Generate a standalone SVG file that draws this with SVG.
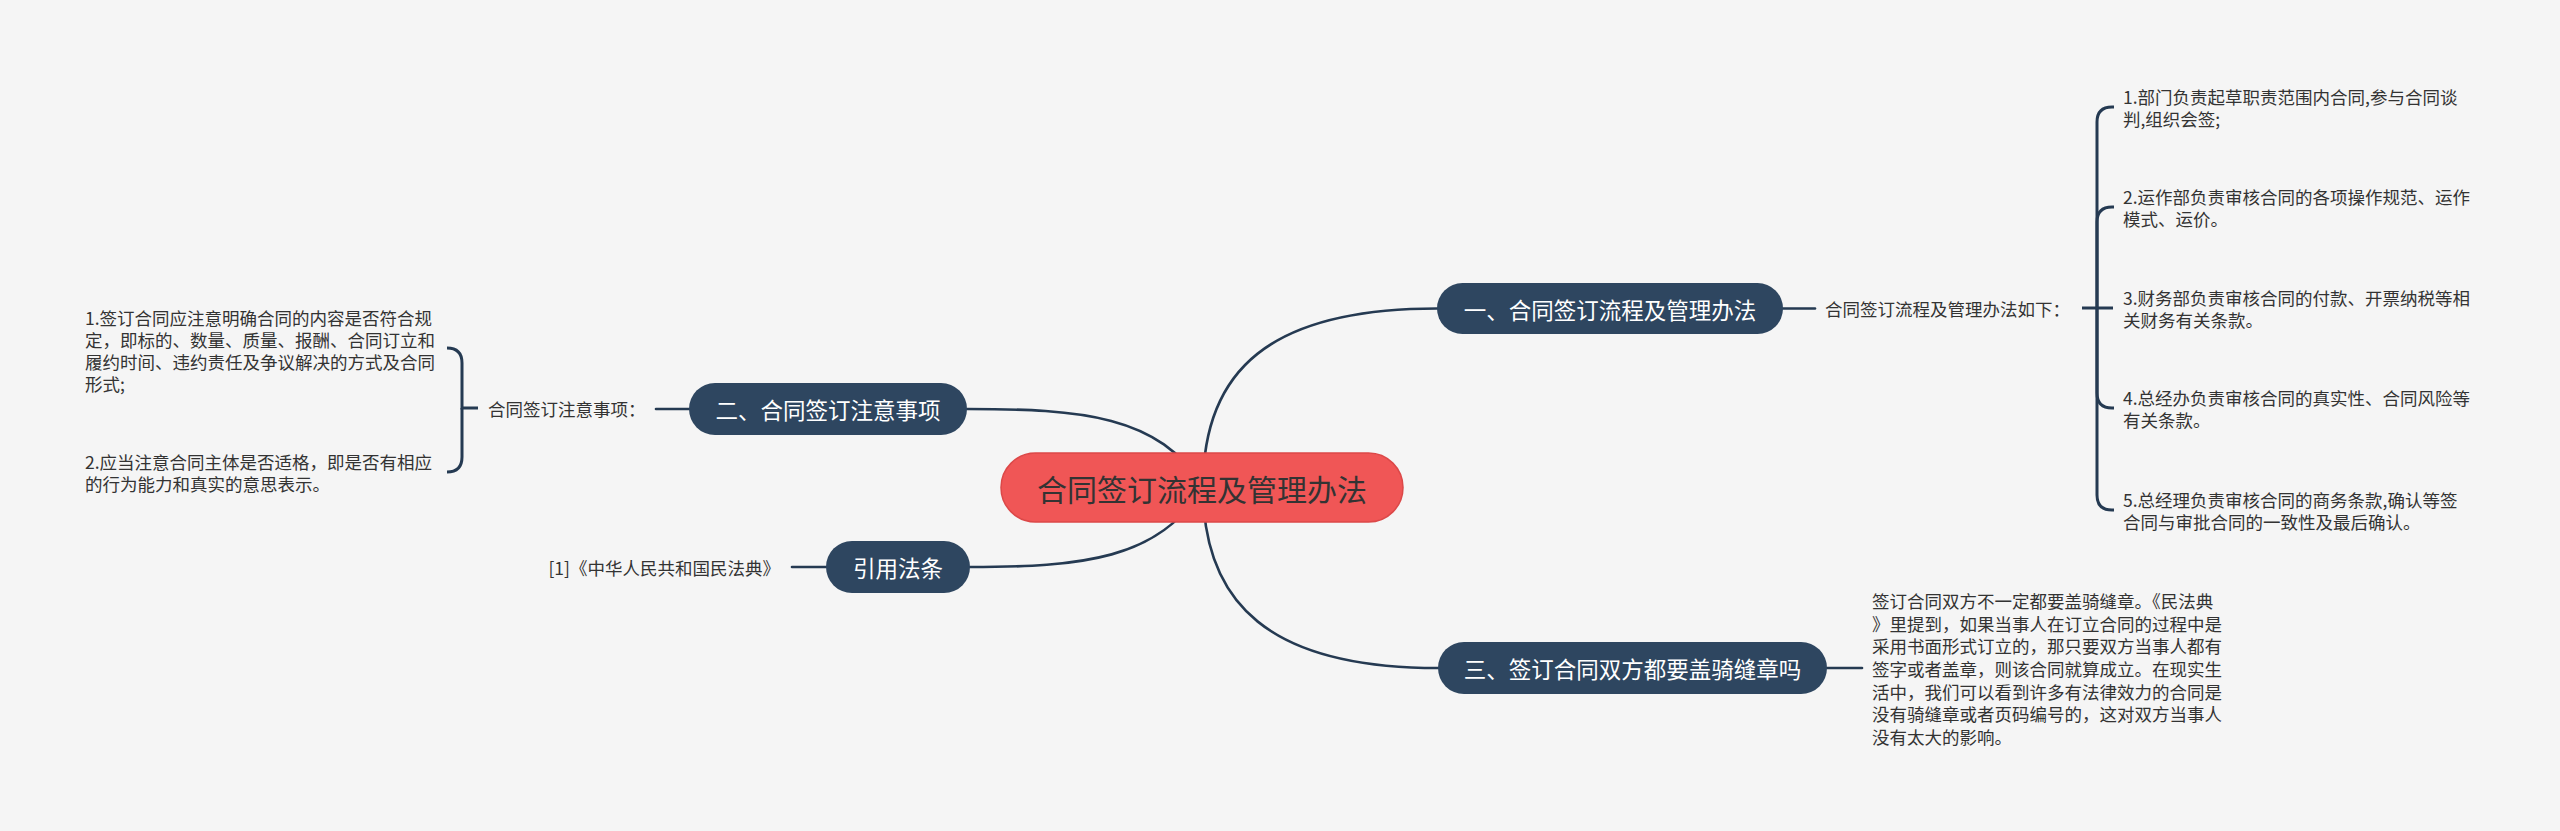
<svg xmlns="http://www.w3.org/2000/svg" width="2560" height="831" viewBox="0 0 2560 831">
<style>
.bg{fill:#f5f5f5}
.conn{fill:none;stroke:#253a52;stroke-width:2.6;stroke-linecap:round}
.br{fill:none;stroke:#253a52;stroke-width:3}
.node{fill:#2e4660}
.root{fill:#f05656;stroke:#dc4848;stroke-width:1.5}
.nt{font-family:"Noto Sans CJK SC","Noto Sans",sans-serif;font-size:22.5px;fill:#ffffff;text-anchor:middle;dominant-baseline:central}
.rt{font-family:"Noto Sans CJK SC","Noto Sans",sans-serif;font-size:30px;fill:#333333;text-anchor:middle;dominant-baseline:central}
.t{font-family:"Noto Sans CJK SC","Noto Sans",sans-serif;font-size:17.5px;fill:#333333;dominant-baseline:central}
</style>
<rect class="bg" x="0" y="0" width="2560" height="831"/>
<g id="connectors">
<path class="conn" d="M 1203 487 C 1203 370 1270 308.5 1437 308.5"/>
<path class="conn" d="M 1203 487 C 1203 604 1270 668 1438 668"/>
<path class="conn" d="M 967 409 C 1080 409 1160 415 1203 487"/>
<path class="conn" d="M 970 567 C 1080 567 1160 560 1203 487"/>
<path class="conn" d="M 1783 308.5 H 1815"/>
<path class="br" d="M 2082 308 H 2113"/>
<path class="br" d="M 2097 308 V 122 Q 2097 107 2112 107 H 2114"/>
<path class="br" d="M 2097 308 V 222 Q 2097 207 2112 207 H 2114"/>
<path class="br" d="M 2097 308 V 393 Q 2097 408 2112 408 H 2114"/>
<path class="br" d="M 2097 308 V 495 Q 2097 510 2112 510 H 2114"/>
<path class="conn" d="M 1827 668 H 1862"/>
<path class="conn" d="M 656 409 H 689"/>
<path class="br" d="M 478 408 H 462 V 363 Q 462 348 447 348"/>
<path class="br" d="M 462 408 V 457 Q 462 472 447 472"/>
<path class="conn" d="M 792 567 H 826"/>
</g>
<g id="root">
<rect class="root" x="1001" y="453" width="402" height="69" rx="34.5"/>
<text class="rt" x="1202" y="487.5">合同签订流程及管理办法</text>
</g>
<g id="n1">
<rect class="node" x="1437" y="283" width="346" height="51" rx="25.5"/>
<text class="nt" x="1610" y="308.5">一、合同签订流程及管理办法</text>
</g>
<g id="n1-label">
<text class="t" x="1825" y="308">合同签订流程及管理办法如下：</text>
</g>
<g id="n1-item1">
<text class="t"><tspan x="2123" y="96">1.部门负责起草职责范围内合同,参与合同谈</tspan><tspan x="2123" y="118">判,组织会签;</tspan></text>
</g>
<g id="n1-item2">
<text class="t"><tspan x="2123" y="196">2.运作部负责审核合同的各项操作规范、运作</tspan><tspan x="2123" y="218">模式、运价。</tspan></text>
</g>
<g id="n1-item3">
<text class="t"><tspan x="2123" y="297">3.财务部负责审核合同的付款、开票纳税等相</tspan><tspan x="2123" y="319">关财务有关条款。</tspan></text>
</g>
<g id="n1-item4">
<text class="t"><tspan x="2123" y="397">4.总经办负责审核合同的真实性、合同风险等</tspan><tspan x="2123" y="419">有关条款。</tspan></text>
</g>
<g id="n1-item5">
<text class="t"><tspan x="2123" y="499">5.总经理负责审核合同的商务条款,确认等签</tspan><tspan x="2123" y="521">合同与审批合同的一致性及最后确认。</tspan></text>
</g>
<g id="n3">
<rect class="node" x="1438" y="642" width="389" height="52" rx="26"/>
<text class="nt" x="1632.5" y="668">三、签订合同双方都要盖骑缝章吗</text>
</g>
<g id="n3-text">
<text class="t"><tspan x="1872" y="600">签订合同双方不一定都要盖骑缝章。《民法典</tspan><tspan x="1872" y="622.7">》里提到，如果当事人在订立合同的过程中是</tspan><tspan x="1872" y="645.4">采用书面形式订立的，那只要双方当事人都有</tspan><tspan x="1872" y="668">签字或者盖章，则该合同就算成立。在现实生</tspan><tspan x="1872" y="690.7">活中，我们可以看到许多有法律效力的合同是</tspan><tspan x="1872" y="713.4">没有骑缝章或者页码编号的，这对双方当事人</tspan><tspan x="1872" y="736">没有太大的影响。</tspan></text>
</g>
<g id="n2">
<rect class="node" x="689" y="383" width="278" height="52" rx="26"/>
<text class="nt" x="828" y="409">二、合同签订注意事项</text>
</g>
<g id="n2-label">
<text class="t" x="488" y="408">合同签订注意事项：</text>
</g>
<g id="n2-item1">
<text class="t"><tspan x="85" y="317">1.签订合同应注意明确合同的内容是否符合规</tspan><tspan x="85" y="339">定，即标的、数量、质量、报酬、合同订立和</tspan><tspan x="85" y="361">履约时间、违约责任及争议解决的方式及合同</tspan><tspan x="85" y="383">形式;</tspan></text>
</g>
<g id="n2-item2">
<text class="t"><tspan x="85" y="461">2.应当注意合同主体是否适格，即是否有相应</tspan><tspan x="85" y="483">的行为能力和真实的意思表示。</tspan></text>
</g>
<g id="n4">
<rect class="node" x="826" y="541" width="144" height="52" rx="26"/>
<text class="nt" x="898" y="567">引用法条</text>
</g>
<g id="n4-label">
<text class="t" x="780" y="567" text-anchor="end">[1]《中华人民共和国民法典》</text>
</g>
</svg>
